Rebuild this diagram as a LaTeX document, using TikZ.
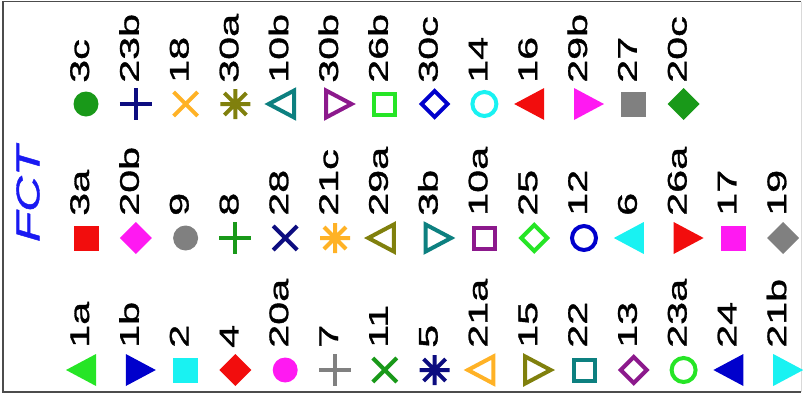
\documentclass[tikz,border=0pt]{standalone}
\usepackage{fontspec}
\setmainfont{Liberation Sans}
\newfontfamily\labfont{Liberation Sans}[FakeBold=1]
\usepackage{graphicx}
\definecolor{mgreen}{rgb}{0.1,0.6,0.1}
\definecolor{mnavy}{rgb}{0.05,0.05,0.5}
\definecolor{morange}{rgb}{1,0.7,0.15}
\definecolor{molive}{rgb}{0.5,0.5,0.05}
\definecolor{mteal}{rgb}{0.05,0.5,0.5}
\definecolor{mpurple}{rgb}{0.55,0.1,0.55}
\definecolor{mlime}{rgb}{0.15,0.9,0.15}
\definecolor{mblue}{rgb}{0,0,0.8}
\definecolor{mcyan}{rgb}{0.1,0.95,0.95}
\definecolor{mred}{rgb}{0.95,0.05,0.05}
\definecolor{mmag}{rgb}{1,0.1,0.95}
\definecolor{mgray}{rgb}{0.5,0.5,0.5}
\definecolor{fctblue}{rgb}{0.1,0.1,0.95}
\newcommand\shfcirc{\fill (0,0) circle[radius=12.5pt];}
\newcommand\shocirc{\draw[mk] (0,0) circle[radius=12pt];}
\newcommand\shfsq{\fill (-12.5,-12.5) rectangle (12.5,12.5);}
\newcommand\shosq{\draw[mk] (-10.5,-10.5) rectangle (10.5,10.5);}
\newcommand\shfdia{\fill (0,-16) -- (16,0) -- (0,16) -- (-16,0) -- cycle;}
\newcommand\shodia{\draw[mk] (0,-13) -- (13,0) -- (0,13) -- (-13,0) -- cycle;}
\newcommand\shftl{\fill (-20,0) -- (10,-16) -- (10,16) -- cycle;}
\newcommand\shotl{\draw[mk] (-16.5,0) -- (9,-13.5) -- (9,13.5) -- cycle;}
\newcommand\shftr{\fill (20,0) -- (-10,-16) -- (-10,16) -- cycle;}
\newcommand\shotr{\draw[mk] (16.5,0) -- (-9,-13.5) -- (-9,13.5) -- cycle;}
\newcommand\shplus{\draw[mk] (-16,0) -- (16,0) (0,-16) -- (0,16);}
\newcommand\shcross{\draw[mk] (-12,-12) -- (12,12) (-12,12) -- (12,-12);}
\newcommand\shstar{\draw[mk] (-15,0) -- (15,0) (0,-15) -- (0,15) (-11,-11) -- (11,11) (-11,11) -- (11,-11);}
\newcommand\mkit[4]{\begin{scope}[shift={(#2,#3)},color=#1]\csname sh#4\endcsname\end{scope}}
\begin{document}
\begin{tikzpicture}[x=1pt,y=-1pt,
  mk/.style={line width=4pt,line join=miter},
  lab/.style={rotate=90,anchor=base west,inner sep=0pt,font=\labfont\fontsize{27}{27}\selectfont},
  frame/.style={line width=1.5pt,draw=black!70}]
\useasboundingbox (0,0) rectangle (803,405);
\draw[frame] (801,1.5) -- (3,1.5) -- (3,392) -- (801,392);
\draw[black!15,line width=1pt] (801,1.5) -- (801,392);
\node[rotate=90,inner sep=0pt,text=fctblue,font=\labfont\fontsize{33}{33}\selectfont\itshape] (title) at (28,194) {\scalebox{1.5}[1]{FCT}};
\foreach \s/\c/\t [count=\i from 0] in {fcirc/mgreen/3c, plus/mnavy/23b, cross/morange/18, star/molive/30a, otl/mteal/10b, otr/mpurple/30b, osq/mlime/26b, odia/mblue/30c, ocirc/mcyan/14, ftl/mred/16, ftr/mmag/29b, fsq/mgray/27, fdia/mgreen/20c}{
  \mkit{\c}{86+49.8*\i}{104}{\s}
  \node[lab] (ra\i) at ({89+49.8*\i},83) {\scalebox{1.53}[1]{\t}};
}
\foreach \s/\c/\t [count=\i from 0] in {fsq/mred/3a, fdia/mmag/20b, fcirc/mgray/9, plus/mgreen/8, cross/mnavy/28, star/morange/21c, otl/molive/29a, otr/mteal/3b, osq/mpurple/10a, odia/mlime/25, ocirc/mblue/12, ftl/mcyan/6, ftr/mred/26a, fsq/mmag/17, fdia/mgray/19}{
  \mkit{\c}{86+49.8*\i}{238}{\s}
  \node[lab] (rb\i) at ({89+49.8*\i},216) {\scalebox{1.53}[1]{\t}};
}
\foreach \s/\c/\t [count=\i from 0] in {ftl/mlime/1a, ftr/mblue/1b, fsq/mcyan/2, fdia/mred/4, fcirc/mmag/20a, plus/mgray/7, cross/mgreen/11, star/mnavy/5, otl/morange/21a, otr/molive/15, osq/mteal/22, odia/mpurple/13, ocirc/mlime/23a, ftl/mblue/24, ftr/mcyan/21b}{
  \mkit{\c}{86+49.8*\i}{370}{\s}
  \node[lab] (rc\i) at ({89+49.8*\i},348) {\scalebox{1.53}[1]{\t}};
}
\end{tikzpicture}
\end{document}
